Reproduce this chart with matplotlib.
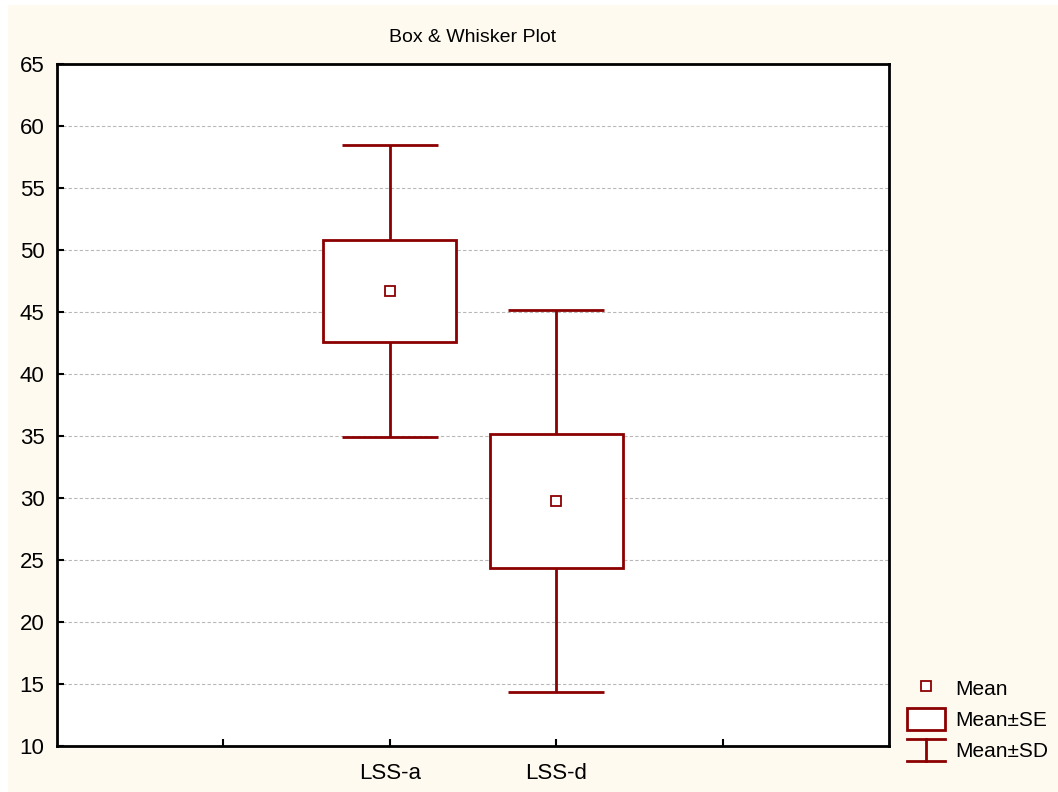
import matplotlib.pyplot as plt
from matplotlib.patches import Rectangle
from matplotlib.lines import Line2D
from matplotlib.legend_handler import HandlerBase

plt.rcParams['font.family'] = ['Liberation Sans', 'DejaVu Sans']

# Data
groups = ['LSS-a', 'LSS-d']
means = [46.7, 29.75]
se = [4.1, 5.4]
sd = [11.75, 15.4]

dark_red = '#8b0000'
bg = '#fffaf0'


# Custom legend symbol for Mean±SD: an "I" shape
class HandlerSD(HandlerBase):
    def create_artists(self, legend, orig, xd, yd, w, h, fontsize, trans):
        x0, y0 = -xd, -yd
        top = Line2D([x0, x0 + w], [y0 + h, y0 + h], color=dark_red, lw=2)
        bot = Line2D([x0, x0 + w], [y0, y0], color=dark_red, lw=2)
        mid = Line2D([x0 + w / 2, x0 + w / 2], [y0, y0 + h], color=dark_red, lw=2)
        for a in (top, bot, mid):
            a.set_transform(trans)
        return [top, bot, mid]


fig = plt.figure(figsize=(10.58, 7.92), dpi=100, facecolor='white')
# cream panel (thin white strip left and top, as in the original export)
fig.patches.append(Rectangle((8 / 1058, 0), 1, 1 - 5 / 792, transform=fig.transFigure,
                             facecolor=bg, edgecolor='none', zorder=-10))

ax = fig.add_axes([0.0539, 0.0581, 0.7864, 0.8611])
ax.set_facecolor('white')

pos = [2, 3]
for x, m, e, d in zip(pos, means, se, sd):
    # whiskers (mean ± SD)
    ax.vlines(x, m - d, m + d, color=dark_red, lw=2, zorder=2)
    ax.hlines([m - d, m + d], x - 0.29, x + 0.29, color=dark_red, lw=2, zorder=2)
    # box (mean ± SE)
    ax.bar(x, 2 * e, bottom=m - e, width=0.8, facecolor='white',
           edgecolor=dark_red, lw=2, zorder=3)
    # mean
    ax.plot(x, m, 's', ms=7, mfc='white', mec=dark_red, mew=1.3, zorder=4)

ax.set_xlim(0, 5)
ax.set_ylim(10, 65)
ax.set_xticks([1, 2, 3, 4])
ax.set_xticklabels(['', groups[0], groups[1], ''])
ax.set_yticks(range(10, 66, 5))
ax.tick_params(direction='in', length=5, width=1.5, labelsize=16)
ax.tick_params(axis='x', pad=12)
ax.tick_params(axis='y', pad=9)
ax.yaxis.grid(True, linestyle=(0, (3, 2)), color='#b8b8b8', lw=0.8)
ax.set_axisbelow(True)
for s in ax.spines.values():
    s.set_linewidth(2)

ax.set_title('Box & Whisker Plot', fontsize=14, pad=16)

h_mean = Line2D([], [], marker='s', ls='none', ms=7, mfc='white', mec=dark_red, mew=1.3)
h_se = Rectangle((0, 0), 1, 1, facecolor='white', edgecolor=dark_red, lw=2)
h_sd = Line2D([], [])
fig.legend([h_mean, h_se, h_sd], ['Mean', 'Mean\u00b1SE', 'Mean\u00b1SD'],
           handler_map={h_sd: HandlerSD()},
           loc='upper left', bbox_to_anchor=(0.857, 0.145), frameon=False,
           fontsize=15, handlelength=1.83, handleheight=1.2, handletextpad=0.5,
           labelspacing=0.45, borderpad=0, borderaxespad=0)

fig.savefig('out.png', dpi=100)
